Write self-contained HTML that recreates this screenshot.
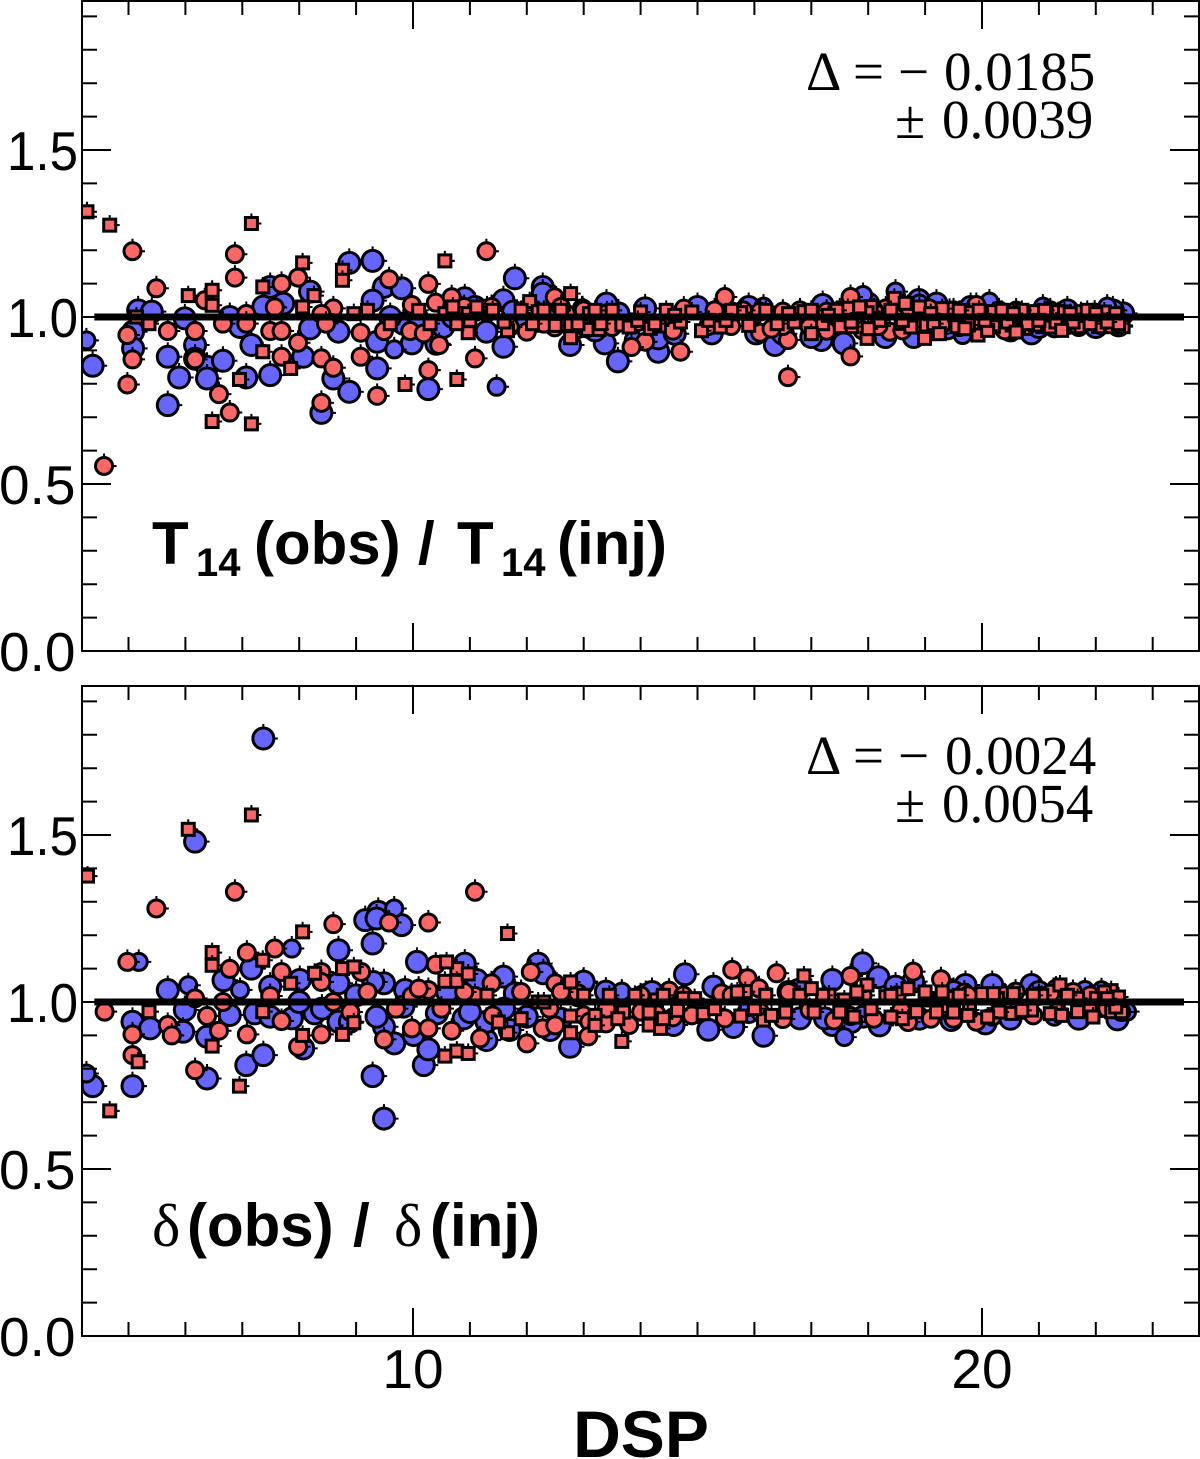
<!DOCTYPE html>
<html>
<head>
<meta charset="utf-8">
<title>T14 and depth recovery versus DSP</title>
<style>
html,body{margin:0;padding:0;background:#fff;width:1200px;height:1459px;overflow:hidden}
svg{display:block}
.tick{font-family:"Liberation Sans",sans-serif;font-size:55px;fill:#000}
.ann{font-family:"Liberation Serif",serif;font-size:55px;fill:#000}
.ttl{font-family:"Liberation Sans",sans-serif;font-weight:bold;font-size:60px;fill:#000}
.sub{font-family:"Liberation Sans",sans-serif;font-weight:bold;font-size:40px;fill:#000}
.dl{font-family:"Liberation Serif","DejaVu Serif",serif;font-size:60px;fill:#000}
</style>
</head>
<body>
<svg id="chart" xmlns="http://www.w3.org/2000/svg" width="1200" height="1459" viewBox="0 0 1200 1459">
  <defs>
    <clipPath id="clip-top"><rect x="82" y="0" width="1117" height="651"/></clipPath>
    <clipPath id="clip-bot"><rect x="82" y="686" width="1117" height="650"/></clipPath>
  </defs>
  <g id="top-marks" clip-path="url(#clip-top)"></g>
  <g id="bot-marks" clip-path="url(#clip-bot)"></g>
  <g id="top-axes"></g>
  <g id="bot-axes"></g>

  <g>
    <text class="ttl" x="152" y="564">T</text><text class="sub" x="196" y="576">14</text><text class="ttl" x="254" y="564">(obs)</text><text class="ttl" x="418" y="564" font-weight="normal">/</text><text class="ttl" x="457" y="564">T</text><text class="sub" x="501" y="576">14</text><text class="ttl" x="557" y="564">(inj)</text>
  </g>
  <g>
    <text class="dl" x="152" y="1246">δ</text><text class="ttl" x="187" y="1246">(obs)</text><text class="ttl" x="353" y="1246" font-weight="normal">/</text><text class="dl" x="394" y="1246">δ</text><text class="ttl" x="430" y="1246">(inj)</text>
  </g>
  <g>
    <text class="ann" x="806" y="90">Δ</text><text class="ann" x="853" y="90">=</text><text class="ann" x="898" y="90">−</text><text class="ann" x="944" y="90">0.0185</text>
    <text class="ann" x="895" y="138">±</text><text class="ann" x="942" y="138">0.0039</text>
  </g>
  <g>
    <text class="ann" x="806" y="774">Δ</text><text class="ann" x="853" y="774">=</text><text class="ann" x="898" y="774">−</text><text class="ann" x="945" y="774">0.0024</text>
    <text class="ann" x="895" y="822">±</text><text class="ann" x="942" y="822">0.0054</text>
  </g>
  <text x="641" y="1457" text-anchor="middle" font-family="'Liberation Sans',sans-serif" font-weight="bold" font-size="66">DSP</text>
</svg>
<script>
const xMajorTicks = [10, 20];
const xMinorTicks = [5,6,7,8,9,11,12,13,14,15,16,17,18,19,21,22,23];
const yMajorTicks = [0.5, 1.0, 1.5];
const yMinorTicks = [0.1,0.2,0.3,0.4,0.6,0.7,0.8,0.9,1.1,1.2,1.3,1.4,1.6,1.7,1.8,1.9];
const yTickLabels = ["0.0","0.5","1.0","1.5"];
const yLabelValues = [0, 0.5, 1.0, 1.5];
const referenceValue = [4.4, 23.55];

const topBlueLarge = [[4.37,.854],[5.17,1.02],[5.41,1.016],[5.99,.996],[5.08,.956],[5.08,.906],[5.69,.881],[6.17,.916],[6.17,.875],[6.38,.851],[6.66,.869],[5.89,.819],[6.38,.816],[5.69,.736],[7.07,.819],[7.49,.826],[7.16,.916],[7.37,1.031],[7.49,1.09],[7.72,1.04],[8.19,1.076],[8.07,.881],[8.6,.816],[8.88,.776],[8.39,.713],[8.88,1.162],[9.29,1.168],[9.49,1.09],[9.8,1.086],[9.29,1.049],[9.37,.846],[9.98,.921],[10.27,.784],[11.79,1.116],[11.59,1.05],[12.28,1.09],[12.28,1.07],[11.59,.911],[12.76,.916],[10.91,1.056],[11.09,1.03],[8.69,.956],[8.19,.966],[6.78,1.0],[6.96,.97],[10.41,.92],[11.29,.956],[9.37,.926],[9.83,.98],[11.76,1.016],[10.53,.97],[9.6,1.0],[10.1,.99],[10.7,1.0],[11.3,1.02],[12.0,.98],[12.5,1.01],[12.9,.97],[13.61,1.011],[14.08,1.026],[13.6,.867],[14.31,.896],[14.31,.936],[13.37,.921],[17.2,1.036],[16.36,.916],[17.18,.931],[17.57,.921],[15.59,1.011],[20.87,.951],[22.48,1.011],[15.25,.951],[16.03,.951],[18.89,1.051],[13.2,.96],[13.4,1.04],[14.6,.95],[15.0,1.03],[15.9,1.03],[16.5,.95],[17.0,.94],[18.0,1.04],[18.3,.94],[18.8,.94],[19.2,1.04],[19.8,1.03],[20.5,.96],[21.0,.97],[21.5,1.02],[22.0,.97],[22.3,1.02],[22.4,.975]];
const topBlueSmall = [[4.26,.93],[9.67,.903],[11.47,.791],[18.48,1.076],[13.88,.931],[16.16,1.031],[19.66,.946],[22.2,1.031],[21.07,1.031],[20.13,1.046],[21.27,.966],[17.91,1.066],[18.9,1.04],[19.4,.96]];
const topRedSquare = [[4.27,1.315],[4.67,1.275],[7.16,1.28],[10.56,1.168],[8.06,1.162],[8.76,1.14],[8.76,1.11],[6.05,1.064],[6.47,1.08],[6.47,1.035],[8.26,1.064],[7.36,1.09],[12.77,1.07],[8.06,1.03],[8.96,1.01],[5.36,.98],[5.14,1.0],[7.36,.896],[7.85,.846],[6.95,.813],[10.77,.813],[9.86,.798],[6.47,.687],[7.16,.68],[10.97,.953],[11.66,.959],[12.77,.938],[12.77,.978],[10.77,.98],[10.56,1.01],[10.97,1.01],[11.12,1.03],[12.05,1.046],[12.2,1.016],[9.2,1.02],[9.6,.98],[10.1,1.02],[10.3,.98],[10.7,1.03],[11.0,.99],[11.4,1.02],[11.6,.985],[11.9,1.02],[12.1,.98],[12.3,1.02],[12.5,.975],[13.07,.963],[13.27,.963],[13.67,.976],[14.17,.966],[14.33,.973],[15.07,.959],[16.87,1.016],[15.76,1.013],[17.98,.936],[18.46,1.056],[18.65,1.041],[17.64,1.026],[18.05,1.031],[17.98,1.013],[19.43,1.026],[19.78,1.013],[20.2,1.016],[20.94,1.016],[21.34,1.016],[21.74,1.016],[22.28,.971],[22.48,.971],[22.05,.971],[21.74,.971],[21.07,.971],[20.53,.976],[20.2,.971],[19.56,.971],[18.99,.936],[19.02,.976],[18.58,.981],[17.71,.971],[17.51,.971],[19.93,.946],[19.76,.976],[20.77,.966],[20.94,.976],[22.25,1.006],[12.6,1.02],[12.9,.98],[13.1,1.01],[13.3,.98],[13.5,1.02],[13.8,.97],[14.0,1.015],[14.25,.98],[14.45,1.02],[14.7,.985],[14.9,1.015],[15.2,.99],[15.4,.97],[15.6,1.02],[15.9,.975],[16.2,1.02],[16.4,.98],[16.7,.985],[17.0,1.02],[17.2,.98],[17.45,1.02],[17.7,.985],[17.85,1.03],[18.2,.99],[18.4,1.02],[18.75,.97],[18.9,1.03],[19.15,.98],[19.3,1.025],[19.6,1.02],[19.7,.965],[19.95,1.02],[20.1,.96],[20.35,1.02],[20.45,.985],[20.7,1.02],[20.8,.98],[21.1,1.02],[21.2,.97],[21.45,1.015],[21.6,.985],[21.85,1.02],[21.9,.98],[22.15,1.015],[22.35,1.01],[22.4,.98],[20.05,.99],[20.55,1.01],[21.0,.99],[21.3,.985],[21.55,1.01],[22.0,1.01],[22.2,.985],[19.1,1.01],[18.6,.99],[17.3,1.005],[16.6,1.01],[15.5,.99],[14.6,1.005],[13.95,.99],[13.2,1.02],[18.0,.965],[19.25,.95],[20.6,.955],[21.4,.96],[17.0,.95]];
const topRedCircle = [[5.07,1.197],[6.87,1.188],[11.29,1.197],[6.87,1.118],[5.49,1.086],[6.34,1.05],[7.98,1.118],[7.69,1.099],[9.58,1.113],[10.27,1.099],[10.68,1.059],[10.4,1.043],[9.98,1.036],[11.38,1.03],[12.49,1.059],[12.98,1.026],[7.57,1.029],[8.6,1.026],[8.39,1.009],[7.07,1.009],[12.7,1.009],[4.98,.946],[5.69,.958],[6.17,.958],[6.66,.98],[7.07,.98],[7.49,.958],[7.69,.958],[8.47,.98],[9.08,.953],[9.49,.958],[9.95,.958],[10.19,.951],[10.46,.916],[7.98,.923],[5.07,.873],[6.17,.873],[7.69,.881],[8.39,.876],[9.08,.881],[11.09,.876],[8.6,.848],[10.27,.841],[4.98,.798],[6.59,.769],[8.39,.743],[6.78,.714],[9.37,.764],[12,.956],[12.49,.969],[13.05,.966],[4.57,.554],[10.9,1.03],[11.7,.97],[12.3,.98],[12.6,1.03],[15.48,1.06],[14.76,1.025],[17.69,1.06],[16.59,.82],[17.69,.882],[14.7,.896],[14.08,.926],[13.84,.91],[14.57,.959],[16.1,.953],[16.59,.931],[17.27,.959],[18.38,.956],[12.97,1.026],[18.31,1.026],[19.07,1.026],[19.9,.971],[20.6,1.019],[19.9,1.036],[13.41,1.011],[15.19,.973],[15.59,.973],[16.97,.971],[16.5,.973],[18.18,.973],[19.28,.976],[18.89,.976],[17.27,1.016],[16.1,1.016],[16.5,1.016],[21.51,.976],[21.98,1.013],[12.7,.98],[13.0,1.02],[13.5,.97],[13.95,.985],[15.3,1.02],[15.8,1.02],[16.3,.965],[16.8,1.02],[17.5,1.02],[17.9,.96],[18.1,1.02],[18.6,.96],[18.7,1.03],[19.5,1.02],[19.6,.97],[20.3,1.02],[20.4,.96],[21.2,1.02],[21.7,.97],[22.1,.975]];

const botBlueLarge = [[7.37,1.789],[6.17,1.48],[4.37,.748],[5.07,.748],[6.38,.771],[7.07,.811],[7.37,.841],[9.29,.778],[9.49,.651],[10.19,.811],[10.27,.858],[12.76,.866],[8.07,.861],[9.67,.876],[11.29,.886],[10.89,.951],[9.39,1.27],[9.16,1.245],[9.36,1.25],[9.8,1.23],[9.29,1.175],[8.69,1.155],[10.07,1.12],[10.91,1.115],[12.2,1.115],[7.16,1.1],[6.67,1.065],[5.69,1.036],[7.49,1.046],[8.01,1.066],[8.69,1.056],[9.49,1.056],[9.86,1.036],[9.3,1.06],[11.59,1.076],[11.79,1.026],[12.29,1.086],[12.99,1.056],[11.12,1.066],[5.07,.941],[5.38,.921],[5.99,.976],[5.96,.911],[6.38,.896],[6.78,.961],[7.22,.966],[7.49,.956],[7.87,.951],[8.27,.966],[8.69,.941],[8.89,.941],[9.49,.926],[9.36,.956],[10.01,.901],[11.29,.941],[12,.956],[12.41,.916],[11.7,.916],[9.83,.986],[10.42,.966],[8.0,1.0],[8.4,.98],[9.0,1.02],[10.6,1.03],[11.0,.97],[11.6,.98],[12.6,.95],[12.9,1.02],[15.19,.917],[16.16,.899],[17.9,1.116],[18.18,1.074],[14.78,1.083],[15.28,1.046],[16.77,1.036],[13.39,1.031],[14.09,1.021],[13.0,1.061],[15.63,.925],[20.18,1.051],[19.71,1.051],[22.38,.948],[14.58,.931],[17.37,.931],[20.06,.936],[19.46,.946],[18.79,1.061],[18.48,1.046],[17.37,1.066],[20.87,1.051],[17.91,.956],[17.24,.951],[16.8,.951],[14.2,1.03],[15.0,.97],[15.9,.97],[16.6,1.03],[17.7,.94],[18.2,.93],[18.9,.95],[19.5,1.03],[20.5,.95],[21.0,1.03],[21.7,.95]];
const botBlueSmall = [[4.26,.786],[9.67,1.28],[7.87,1.16],[5.18,1.12],[6.05,1.05],[6.96,1.036],[17.58,.895],[13.67,1.031],[22.55,.971],[21.81,1.036],[21.27,.956],[22.45,.97],[21.3,1.04],[22.1,1.035]];
const botRedSquare = [[6.05,1.517],[7.16,1.56],[4.28,1.377],[4.67,.674],[6.95,.748],[8.06,1.21],[11.66,1.205],[6.47,1.148],[6.47,1.11],[7.36,1.125],[8.27,1.086],[7.85,1.056],[8.76,1.1],[8.96,1.105],[10.56,1.062],[10.77,1.1],[10.77,1.062],[10.97,1.084],[10.59,1.12],[12.77,1.06],[5.36,.971],[7.36,.971],[8.96,.938],[8.76,.903],[6.47,.868],[10.56,.838],[10.77,.853],[10.97,.846],[11.66,.908],[12.77,.908],[12.77,.958],[5.17,.821],[8.06,.9],[12.2,1.0],[11.3,1.02],[11.5,.94],[11.9,.95],[12.3,1.0],[13.67,.882],[16.16,.946],[15.76,.958],[16.87,1.078],[17.98,1.051],[14.15,.931],[14.35,.921],[15.84,1.031],[22.27,1.034],[21.37,1.051],[18.85,.971],[19.78,.976],[22.28,.971],[22.45,.971],[21.68,.971],[20.87,.976],[20.53,.966],[21.34,.981],[17.31,1.021],[19.39,1.016],[20.27,1.011],[22.01,1.011],[21.68,1.011],[14.28,1.006],[14.75,1.011],[17.58,1.006],[18.31,1.016],[19.05,1.006],[13.0,1.02],[13.2,.96],[13.45,1.02],[13.7,.97],[13.9,1.02],[14.15,.97],[14.4,1.02],[14.65,.975],[14.95,1.01],[15.1,.965],[15.3,.98],[15.7,1.03],[16.0,.98],[16.2,1.02],[16.55,.97],[16.8,1.02],[17.05,.97],[17.2,1.02],[17.5,.97],[17.8,1.03],[18.05,.98],[18.4,1.02],[18.6,.95],[19.0,1.03],[19.2,.97],[19.6,1.02],[19.75,.96],[20.0,1.025],[20.3,.97],[20.55,1.025],[20.7,.975],[21.05,1.02],[21.2,.965],[21.5,1.02],[21.9,.975],[22.15,1.03],[22.35,.985],[22.4,1.015],[13.2,.93],[13.6,.95],[14.4,.95],[16.3,.96],[17.0,1.04],[17.75,.955],[18.4,.955],[19.5,.97],[20.1,.955],[20.9,1.02],[21.4,.96],[21.95,.955],[22.2,1.01],[20.2,1.025],[19.3,1.03],[18.7,1.04]];
const botRedCircle = [[6.87,1.33],[11.09,1.33],[5.49,1.28],[4.98,1.12],[8.6,1.233],[9.58,1.238],[10.27,1.238],[7.08,1.148],[7.57,1.16],[6.78,1.099],[7.69,1.09],[8.39,1.09],[8.39,1.06],[9.09,1.09],[10.4,1.112],[12.07,1.09],[11.38,1.056],[12.5,1.056],[12.7,1.021],[10.27,1.036],[9.98,1.018],[7.49,1.018],[6.17,1.011],[8.6,1.0],[6.66,1.0],[4.58,.971],[6.38,.958],[7.69,.943],[5.69,.931],[6.59,.914],[5.07,.903],[7.08,.903],[8.39,.903],[9.98,.921],[10.27,.921],[10.68,.914],[12.28,.921],[11.18,.891],[9.49,.888],[7.98,.866],[12,.876],[5.07,.841],[6.17,.796],[5.76,.9],[11.09,1.018],[12.9,1.026],[8.9,.97],[9.2,1.03],[9.7,.98],[10.1,1.04],[10.5,.98],[10.9,1.03],[11.4,.96],[11.9,1.03],[12.4,.98],[12.6,1.03],[12.5,.93],[13.0,.96],[15.61,1.096],[16.39,1.086],[18.79,1.091],[17.69,1.078],[15.88,1.071],[19.28,1.068],[16.08,1.041],[15.42,1.026],[14.5,1.034],[19.69,1.028],[20.59,1.031],[21.0,1.018],[15.48,.951],[16.5,.949],[17.69,.958],[20.18,.956],[19.9,.941],[14.28,.964],[14.57,.954],[13.39,.936],[13.1,.941],[13.8,.931],[13.08,.897],[19.26,.981],[18.58,.976],[16.97,.976],[14.01,.971],[13.4,.98],[14.0,1.02],[14.75,1.02],[14.9,.96],[15.6,1.02],[16.1,.97],[16.6,1.03],[17.4,.945],[17.9,1.02],[18.1,.95],[18.5,1.02],[18.7,.94],[19.1,.95],[19.5,.95],[19.75,1.02],[20.4,1.02],[20.9,.96],[21.2,1.025],[21.6,1.03],[21.9,1.02],[22.2,.98]];

const SVGNS = "http://www.w3.org/2000/svg";
function xScale(v){ return 413 + (v - 10) * 56.9; }
function yTop(v){ return 651 - v * 334; }
function yBot(v){ return 1336 - v * 334; }

function mk(tag, attrs, parent){
  const el = document.createElementNS(SVGNS, tag);
  for (const k in attrs) el.setAttribute(k, attrs[k]);
  parent.appendChild(el);
  return el;
}

function spikes(g, x, y, r){
  mk("path", {d:`M${x} ${y-r-4}V${y-r}M${x+r} ${y}H${x+r+4}`, stroke:"#000", "stroke-width":2, fill:"none"}, g);
}

function circleSeries(parent, rows, yFn, r, fill, name){
  rows.forEach(function(p){
    const g = mk("g", {}, parent);
    
    
    const x = xScale(p[0]), y = yFn(p[1]);
    spikes(g, x, y, r);
    mk("circle", {cx:x, cy:y, r:r, fill:fill, stroke:"#000", "stroke-width":3}, g);
  });
}

function squareSeries(parent, rows, yFn, fill, name){
  const s = 12;
  rows.forEach(function(p){
    const g = mk("g", {}, parent);
    
    
    const x = xScale(p[0]), y = yFn(p[1]);
    spikes(g, x, y, s/2);
    mk("rect", {x:x-s/2, y:y-s/2, width:s, height:s, fill:fill, stroke:"#000", "stroke-width":3}, g);
  });
}

function drawAxes(parent, yFn, top, bottom, left, right, panel, showXLabels){
  const frame = mk("rect", {x:left, y:top, width:right-left, height:bottom-top, fill:"none", stroke:"#000", "stroke-width":2}, parent);
  
  

  const ref = mk("line", {x1:xScale(referenceValue[0]), x2:xScale(referenceValue[1]), y1:yFn(1), y2:yFn(1), stroke:"#000", "stroke-width":7}, parent);
  
  

  const tickPath = [];
  xMinorTicks.forEach(function(v){ const x = xScale(v); tickPath.push(`M${x} ${bottom}v-14M${x} ${top}v14`); });
  xMajorTicks.forEach(function(v){ const x = xScale(v); tickPath.push(`M${x} ${bottom}v-28M${x} ${top}v28`); });
  yMinorTicks.forEach(function(v){ const y = yFn(v); tickPath.push(`M${left} ${y}h15M${right} ${y}h-15`); });
  yMajorTicks.forEach(function(v){ const y = yFn(v); tickPath.push(`M${left} ${y}h29M${right} ${y}h-29`); });
  const ticks = mk("path", {d:tickPath.join(""), stroke:"#000", "stroke-width":2, fill:"none"}, parent);
  
  

  yLabelValues.forEach(function(v, i){
    const attrs = {class:"tick", x:(v < 1 ? 75.5 : 78), y:yFn(v)+20, "text-anchor":"end"};
    if (v >= 1) { attrs.textLength = 71; attrs.lengthAdjust = "spacingAndGlyphs"; }
    const t = mk("text", attrs, parent);
    t.textContent = yTickLabels[i];
    
    
  });

  if (showXLabels) {
    xMajorTicks.forEach(function(v){
      const t = mk("text", {class:"tick", x:xScale(v), y:bottom+52, "text-anchor":"middle"}, parent);
      t.textContent = String(v);
      
      
    });
  }
}

const BLUE = "#6666ff", RED = "#ff6666";
const topG = document.getElementById("top-marks");
const botG = document.getElementById("bot-marks");

circleSeries(topG, topBlueLarge, yTop, 10.5, BLUE, "top-blue-large-point");
circleSeries(topG, topBlueSmall, yTop, 8.5, BLUE, "top-blue-small-point");
circleSeries(topG, topRedCircle, yTop, 8.5, RED, "top-red-circle-point");
squareSeries(topG, topRedSquare, yTop, RED, "top-red-square-point");

circleSeries(botG, botBlueLarge, yBot, 10.5, BLUE, "bottom-blue-large-point");
circleSeries(botG, botBlueSmall, yBot, 8.5, BLUE, "bottom-blue-small-point");
circleSeries(botG, botRedCircle, yBot, 8.5, RED, "bottom-red-circle-point");
squareSeries(botG, botRedSquare, yBot, RED, "bottom-red-square-point");

drawAxes(document.getElementById("top-axes"), yTop, 1, 651, 82, 1199, "top-panel", false);
drawAxes(document.getElementById("bot-axes"), yBot, 686, 1336, 82, 1199, "bottom-panel", true);
</script>
</body>
</html>
